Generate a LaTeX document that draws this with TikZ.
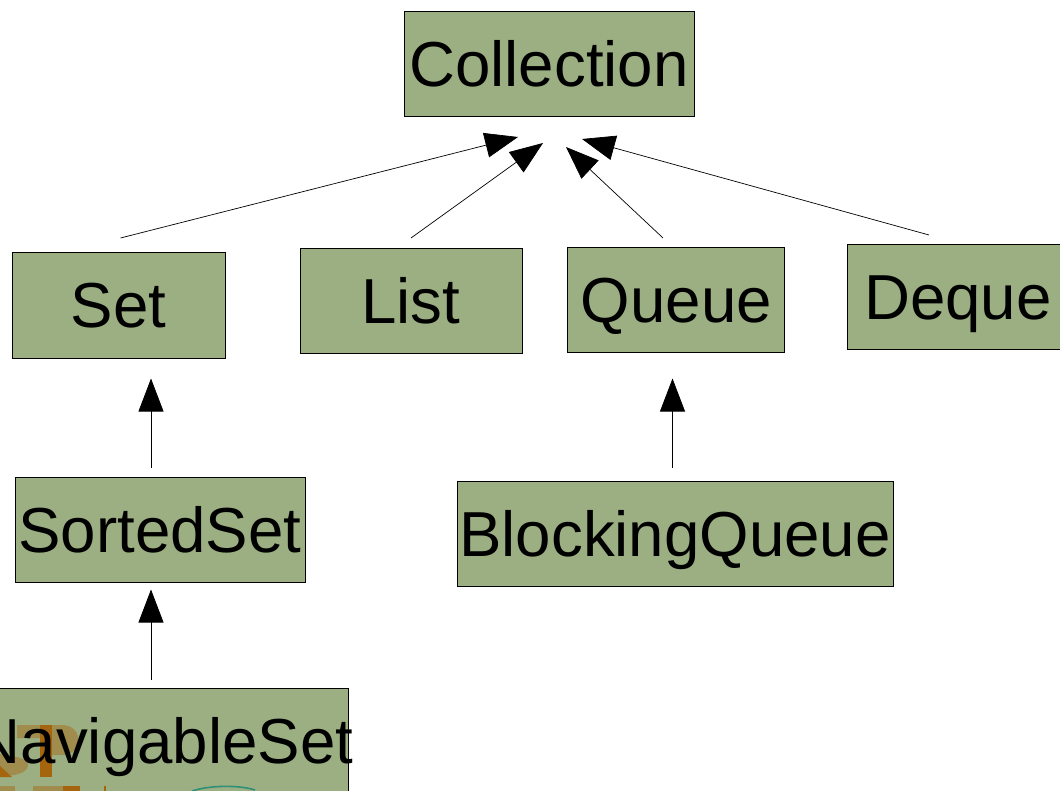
\documentclass[tikz,border=0pt]{standalone}
\usepackage{fontspec}
\setmainfont{Liberation Sans}
\usepackage{xcolor}
\usetikzlibrary{arrows.meta}
\definecolor{boxgreen}{HTML}{9CAF82}
\definecolor{markbrown}{HTML}{A5650F}
\definecolor{markteal}{HTML}{2F8F78}
\tikzset{
  classbox/.style={draw=black, fill=boxgreen, inner sep=0pt, line width=.8pt, text height=46pt, text depth=0pt, font=\fontsize{63.6}{64}\selectfont},
  classtext/.style={inner sep=0pt, text height=46pt, text depth=0pt, font=\fontsize{63.6}{64}\selectfont},
  inherits/.style={line width=.7pt, -{Triangle[length=33pt,width=25pt]}}
}
\begin{document}
\begin{tikzpicture}[x=1pt,y=-1pt]
  \useasboundingbox (0,0) rectangle (1060,791);
  \clip (0,0) rectangle (1060,791);
  \node[classbox, minimum width=290pt, minimum height=105pt] (collection) at (549,63.5) {Collection};
  \node[classbox, minimum width=213pt, minimum height=106pt] (set) at (118.5,305) {Set};
  \node[classbox, minimum width=222pt, minimum height=105pt] (list) at (411,300.5) {List};
  \node[classbox, minimum width=217pt, minimum height=105pt] (queue) at (676.3,299.5) {Queue};
  \node[classbox, minimum width=222pt, minimum height=105pt] (deque) at (958,296.5) {Deque};
  \node[classbox, minimum width=290pt, minimum height=105pt] (sortedset) at (160,529.5) {SortedSet};
  \node[classbox, minimum width=436pt, minimum height=105pt] (blockingqueue) at (675,533.5) {BlockingQueue};
  \node[classbox, minimum width=370pt, minimum height=120pt] (navigablebox) at (163.5,748) {};

  % watermark showing through the last box
  \fill[markbrown, opacity=.45] (17,725) -- (62,725) .. controls (84,725) and (84,755) .. (62,755) -- (52,755) -- (52,738) -- (17,738) -- cycle;
  \fill[markbrown, opacity=.45] (0,754) .. controls (12,756) and (30,758) .. (28,766) .. controls (26,774) and (14,776) .. (0,776) -- cycle;
  \fill[markbrown] (40,725) rectangle (52,777);
  \fill[markbrown] (0,766) -- (12,777) -- (0,777) -- cycle;
  \fill[markbrown, opacity=.45] (0,786) rectangle (15,791);
  \fill[markbrown] (63,786) rectangle (80,791);
  \fill[markbrown, opacity=.45] (33,786) rectangle (63,791);
  \draw[markbrown, line width=1.5pt] (105,786) -- (105,791);
  \draw[markteal, line width=1.6pt] (192,791) .. controls (210,785) and (240,785) .. (255,790);

  \node[classtext] (navigableset) at (164,740.5) {NavigableSet};

  \coordinate (settail) at (120.5,238);
  \coordinate (settip) at (518,137);
  \coordinate (listtail) at (411,238);
  \coordinate (listtip) at (543,143);
  \coordinate (queuetail) at (663,238);
  \coordinate (queuetip) at (566,147);
  \coordinate (dequetail) at (929,235);
  \coordinate (dequetip) at (582,139);
  \coordinate (sortedtail) at (151,468);
  \coordinate (sortedtip) at (151,378.5);
  \coordinate (navtail) at (151,680);
  \coordinate (navtip) at (151,589.5);
  \coordinate (blocktail) at (672.5,468);
  \coordinate (blocktip) at (672.5,378.5);

  \foreach \from/\to in {settail/settip, listtail/listtip, queuetail/queuetip, dequetail/dequetip, sortedtail/sortedtip, navtail/navtip, blocktail/blocktip}
  \draw[inherits] (\from) -- (\to);
\end{tikzpicture}
\end{document}
